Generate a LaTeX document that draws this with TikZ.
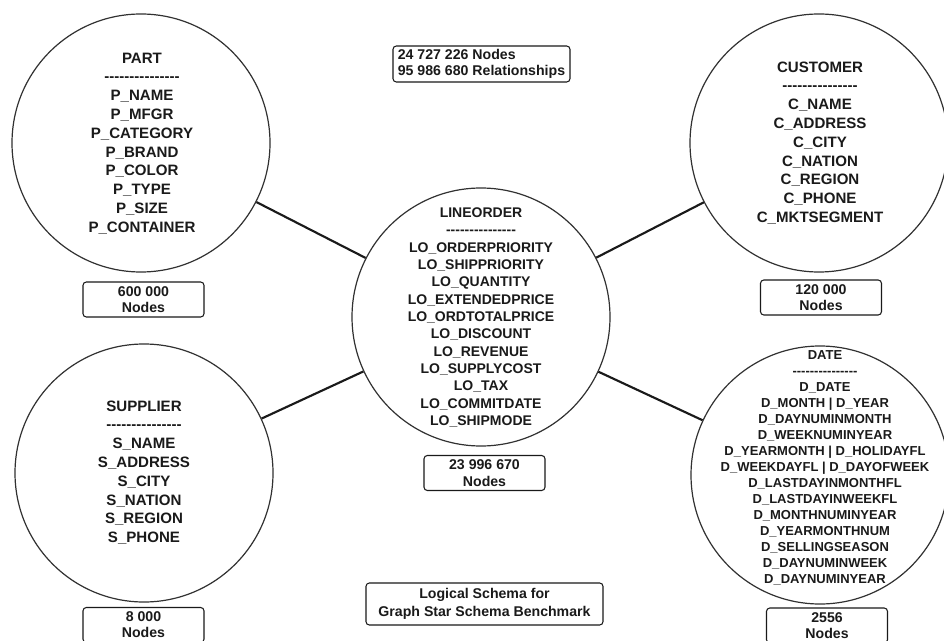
\documentclass[tikz,border=0pt]{standalone}
\usepackage{fontspec}
\setmainfont{Liberation Sans}
\newcommand\hy{\mbox{-}}
\newcommand\dashrow{\hy\hy\hy\hy\hy\hy\hy\hy\hy\hy\hy\hy\hy\hy\hy}
\definecolor{ink}{HTML}{1A1A1A}
\tikzset{
  ent/.style={circle,draw=ink!90,line width=0.9pt,minimum size=193.5pt,inner sep=0pt},
  bigtxt/.style={align=center,text=ink,font=\bfseries\fontsize{11.3pt}{14.1pt}\selectfont},
  lotxt/.style={align=center,text=ink,font=\bfseries\fontsize{10.5pt}{13pt}\selectfont},
  datetxt/.style={align=center,text=ink,font=\bfseries\fontsize{9.75pt}{12pt}\selectfont},
  cnt/.style={draw=ink,line width=0.8pt,rounded corners=2.5pt,minimum width=90.75pt,minimum height=26.25pt,inner sep=0pt,align=center,text=ink,font=\bfseries\fontsize{10.6pt}{12.5pt}\selectfont},
  conn/.style={draw=ink,line width=1.6pt}
}
\begin{document}
\begin{tikzpicture}[x=0.75pt,y=-0.75pt]
\useasboundingbox (0,0) rectangle (944,641);
\fill[white] (0,0) rectangle (944,641);

% entity circles
\node[ent] (part) at (141,143) {};
\node[ent] (cust) at (819,143) {};
\node[ent] (lo)   at (481,317) {};
\node[ent] (supp) at (144,473) {};
\node[ent] (date) at (820,475) {};

% connectors
\draw[conn] (part) -- (lo);
\draw[conn] (cust) -- (lo);
\draw[conn] (supp) -- (lo);
\draw[conn] (date) -- (lo);

% texts
\node[bigtxt] (parttxt) at (142,143.5) {PART\\\dashrow\\P\_NAME\\P\_MFGR\\P\_CATEGORY\\P\_BRAND\\P\_COLOR\\P\_TYPE\\P\_SIZE\\P\_CONTAINER};
\node[bigtxt] (custtxt) at (820,143) {CUSTOMER\\\dashrow\\C\_NAME\\C\_ADDRESS\\C\_CITY\\C\_NATION\\C\_REGION\\C\_PHONE\\C\_MKTSEGMENT};
\node[bigtxt] (supptxt) at (144,472.5) {SUPPLIER\\\dashrow\\S\_NAME\\S\_ADDRESS\\S\_CITY\\S\_NATION\\S\_REGION\\S\_PHONE};
\node[lotxt] (lotxt) at (481,317.5) {LINEORDER\\\dashrow\\LO\_ORDERPRIORITY\\LO\_SHIPPRIORITY\\LO\_QUANTITY\\LO\_EXTENDEDPRICE\\LO\_ORDTOTALPRICE\\LO\_DISCOUNT\\LO\_REVENUE\\LO\_SUPPLYCOST\\LO\_TAX\\LO\_COMMITDATE\\LO\_SHIPMODE};
\node[datetxt] (datetxt) at (825,468) {DATE\\\dashrow\\D\_DATE\\D\_MONTH | D\_YEAR\\D\_DAYNUMINMONTH\\D\_WEEKNUMINYEAR\\D\_YEARMONTH | D\_HOLIDAYFL\\D\_WEEKDAYFL | D\_DAYOFWEEK\\D\_LASTDAYINMONTHFL\\D\_LASTDAYINWEEKFL\\D\_MONTHNUMINYEAR\\D\_YEARMONTHNUM\\D\_SELLINGSEASON\\D\_DAYNUMINWEEK\\D\_DAYNUMINYEAR};

% count boxes
\node[cnt] (partcnt) at (143.5,299.5) {600 000\\Nodes};
\node[cnt] (custcnt) at (821,297.5) {120 000\\Nodes};
\node[cnt] (locnt)   at (484.5,473) {23 996 670\\Nodes};
\node[cnt,font=\bfseries\fontsize{10.6pt}{12pt}\selectfont] (suppcnt) at (143.5,625) {8 000\\Nodes};
\node[cnt,font=\bfseries\fontsize{10.6pt}{12pt}\selectfont] (datecnt) at (827,625.5) {2556\\Nodes};

% stats and title
\node[cnt,minimum width=132.75pt,minimum height=27pt,align=left,inner xsep=3pt] (stats) at (481.5,64) {24 727 226 Nodes\\95 986 680 Relationships};
\node[cnt,minimum width=177.75pt,minimum height=31.5pt,font=\bfseries\fontsize{10.6pt}{13.5pt}\selectfont] (title) at (484.5,604) {Logical Schema for\\Graph Star Schema Benchmark};
\end{tikzpicture}
\end{document}
